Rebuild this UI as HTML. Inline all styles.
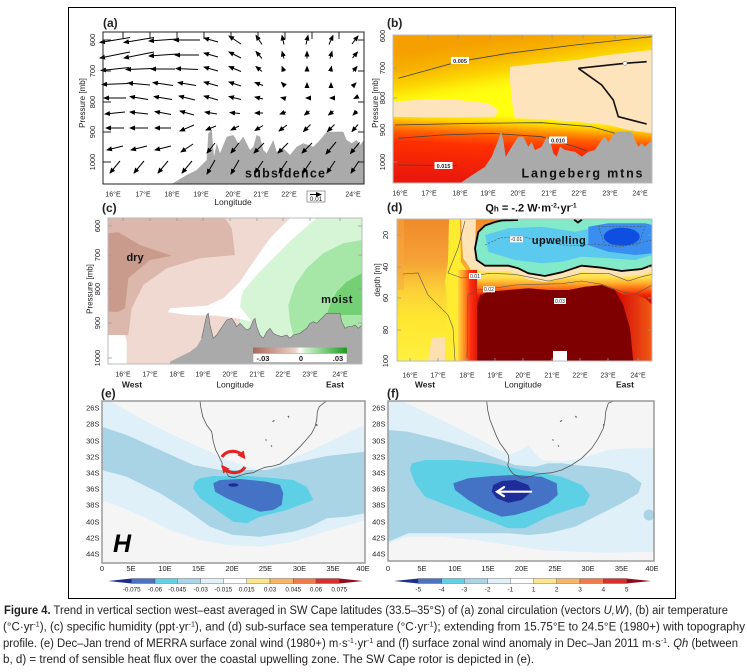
<!DOCTYPE html>
<html><head><meta charset="utf-8"><style>
html,body{margin:0;padding:0;background:#fff;}
svg{display:block;}
text{font-family:"Liberation Sans",sans-serif;fill:#222;}
</style></head><body>
<svg width="747" height="672" viewBox="0 0 747 672" xmlns="http://www.w3.org/2000/svg">
<defs>
<marker id="ah" markerUnits="userSpaceOnUse" markerWidth="6" markerHeight="5" refX="5" refY="2.5" orient="auto"><path d="M0,0 L6,2.5 L0,5 z" fill="#000"/></marker>
<marker id="rh" markerUnits="userSpaceOnUse" markerWidth="8" markerHeight="8" refX="4" refY="4" orient="auto"><path d="M0,0 L8,4 L0,8 z" fill="#e52421"/></marker>
<linearGradient id="bBase" gradientUnits="userSpaceOnUse" x1="0" y1="35" x2="0" y2="183" gradientTransform="rotate(3 522 110)">
<stop offset="0" stop-color="#ffff10"/><stop offset="0.55" stop-color="#ffff10"/><stop offset="0.6" stop-color="#ffd800"/><stop offset="0.64" stop-color="#ffa000"/><stop offset="0.69" stop-color="#ff6000"/><stop offset="0.76" stop-color="#ff3000"/><stop offset="1" stop-color="#ea180c"/></linearGradient>
<linearGradient id="bTop" gradientUnits="userSpaceOnUse" x1="0" y1="35" x2="0" y2="92" gradientTransform="rotate(-9 522 60)">
<stop offset="0" stop-color="#f5a000" stop-opacity="1"/><stop offset="0.3" stop-color="#f7b200" stop-opacity="1"/><stop offset="0.6" stop-color="#fbd400" stop-opacity="0.9"/><stop offset="1" stop-color="#ffff10" stop-opacity="0"/></linearGradient>
<linearGradient id="cbC" x1="0" y1="0" x2="1" y2="0"><stop offset="0" stop-color="#a86a5a"/><stop offset="0.45" stop-color="#ecd2c8"/><stop offset="0.5" stop-color="#fff"/><stop offset="0.55" stop-color="#d4f4d4"/><stop offset="1" stop-color="#1e9a1e"/></linearGradient>
<linearGradient id="dLeft" gradientUnits="userSpaceOnUse" x1="0" y1="219" x2="0" y2="361"><stop offset="0" stop-color="#f08a2a"/><stop offset="0.3" stop-color="#f5a236"/><stop offset="0.5" stop-color="#fbd038"/><stop offset="0.7" stop-color="#ffe630"/><stop offset="1" stop-color="#fff040"/></linearGradient>
<linearGradient id="dMid" gradientUnits="userSpaceOnUse" x1="0" y1="266" x2="0" y2="361"><stop offset="0" stop-color="#fff060"/><stop offset="0.12" stop-color="#ffe050"/><stop offset="0.18" stop-color="#ffb02c"/><stop offset="0.24" stop-color="#ff6a16"/><stop offset="0.3" stop-color="#f02a06"/><stop offset="0.36" stop-color="#c81004"/><stop offset="1" stop-color="#c01004"/></linearGradient>
<linearGradient id="dBand" gradientUnits="userSpaceOnUse" x1="458" y1="0" x2="477" y2="0"><stop offset="0" stop-color="#ffd840"/><stop offset="0.35" stop-color="#ff8a20"/><stop offset="0.65" stop-color="#ff3010"/><stop offset="1" stop-color="#e01a06"/></linearGradient>
<linearGradient id="dRed" gradientUnits="userSpaceOnUse" x1="620" y1="0" x2="652" y2="0"><stop offset="0" stop-color="#d81008"/><stop offset="1" stop-color="#f05a14"/></linearGradient>
</defs>

<rect x="0" y="0" width="747" height="672" fill="#fff"/>
<rect x="68.5" y="7.5" width="607" height="591" fill="none" stroke="#000" stroke-width="1"/>

<!-- ===== Panel (a) ===== -->
<text x="103" y="27" font-size="12" font-weight="bold">(a)</text>
<rect x="103" y="32" width="261" height="152" fill="#fff"/>
<polygon fill="#aaa" points="171.7,184 186.7,175 196.7,170 206.7,160 208.3,133.3 211.7,130 214,156.7 216.7,143.3 220,153.3 226.7,136.7 233.3,135 238.3,143.3 243.3,136.7 250,150 253.3,146.7 256.7,135 260,136.7 263.3,150 266.7,153.3 273.3,140 276.7,151.7 283.3,148.3 290,155 296.7,146.7 303.3,143.3 313.3,146.7 320,140 326.7,131.7 343.3,131.7 346.7,140 351.7,143.3 356.7,140 360,145 364,140 364,184"/>
<text x="285" y="177.5" font-size="12.5" font-weight="bold" text-anchor="middle" textLength="80" lengthAdjust="spacing" style="fill:#111">subsidence</text>
<g stroke="#000" stroke-width="1" fill="none" marker-end="url(#ah)">
<path d="M130 37.5l-30 5"/><path d="M130 52l-30 6"/><path d="M129 67.5l-28 3"/><path d="M128 83.5l-26 1"/><path d="M126 98l-22 0"/><path d="M125 112l-20 2"/><path d="M124 128l-18 0"/><path d="M123 146l-16 4"/><path d="M120 161l-10 12"/>
<path d="M154 37.5l-30 5"/><path d="M154 52l-30 6"/><path d="M152 68.5l-26 1"/><path d="M150 85l-22 -2"/><path d="M148 99.5l-18 -3"/><path d="M148 114l-18 -2"/><path d="M148 128l-18 0"/><path d="M147 146l-16 4"/><path d="M144 161l-10 12"/>
<path d="M177 39l-28 2"/><path d="M177 54l-28 2"/><path d="M175 69l-24 0"/><path d="M173 85.5l-20 -3"/><path d="M172 99.5l-18 -3"/><path d="M171 114.5l-16 -3"/><path d="M171 128l-16 0"/><path d="M171 146l-16 4"/><path d="M168 161l-10 12"/>
<path d="M200 40l-26 0"/><path d="M199 55l-24 0"/><path d="M198 69.5l-22 -1"/><path d="M196 85.5l-18 -3"/><path d="M195 100l-16 -4"/><path d="M194 115l-14 -4"/><path d="M194 125l-14 6"/><path d="M193 144l-12 8"/><path d="M192 161l-10 12"/>
<path d="M218 42l-14 -4"/><path d="M218 57l-14 -4"/><path d="M218 71l-14 -4"/><path d="M218 86l-14 -4"/><path d="M218 100l-14 -4"/><path d="M217 114l-12 -2"/><path d="M216 126l-10 4"/><path d="M215 143l-8 10"/><path d="M215 160l-8 14"/>
<path d="M241 44l-12 -8"/><path d="M241 58l-12 -6"/><path d="M241 71.5l-12 -5"/><path d="M241 86l-12 -4"/><path d="M241 99.5l-12 -3"/><path d="M240 113.5l-10 -1"/><path d="M239 126l-8 4"/><path d="M239 143l-8 10"/><path d="M239 160l-8 14"/>
<path d="M262 44.5l-6 -9"/><path d="M262 58.5l-6 -7"/><path d="M262 71.5l-6 -5"/><path d="M263 85.5l-8 -3"/><path d="M263 99l-8 -2"/><path d="M263 113l-8 0"/><path d="M263 125.5l-8 5"/><path d="M264 143l-10 10"/><path d="M263 161l-8 12"/>
<path d="M284 44.5l-2 -9"/><path d="M284 58.5l-2 -7"/><path d="M284 71.5l-2 -5"/><path d="M284.5 85.5l-3 -3"/><path d="M285 98.5l-4 -1"/><path d="M286 112l-6 2"/><path d="M287 125l-8 6"/><path d="M288 143l-10 10"/><path d="M287 161l-8 12"/>
<path d="M306 44.5l2 -9"/><path d="M307 58.5l0 -7"/><path d="M307 71.5l0 -5"/><path d="M307 85l0 -2"/><path d="M308 98l-2 0"/><path d="M309.5 111l-5 4"/><path d="M310.5 124.5l-7 7"/><path d="M312 143l-10 10"/><path d="M311 161l-8 12"/>
<path d="M329 44.5l4 -9"/><path d="M330 58.5l2 -7"/><path d="M330.5 71.5l1 -5"/><path d="M331 85l0 -2"/><path d="M332 98l-2 0"/><path d="M333.5 111l-5 4"/><path d="M334.5 124.5l-7 7"/><path d="M336 142l-10 12"/><path d="M335 161l-8 12"/>
<path d="M352 44l6 -8"/><path d="M352.5 58l5 -6"/><path d="M353 71.5l4 -5"/><path d="M354 85l2 -2"/><path d="M356 97.5l-2 1"/><path d="M357 111l-4 4"/><path d="M358 124.5l-6 7"/><path d="M359.5 142.5l-9 11"/><path d="M359 161l-8 12"/>
</g>
<rect x="103" y="32" width="261" height="152" fill="none" stroke="#222" stroke-width="1"/>
<g stroke="#222" stroke-width="1">
<path d="M123 32v7M150 32v7M177 32v7M204 32v7M231 32v7M258 32v7M285 32v7M312 32v7M339 32v7"/>
<path d="M103 40h8M103 71h8M103 102h8M103 132h8M103 162h8M364 40h-6M364 71h-6M364 102h-6M364 132h-6M364 162h-6"/>
</g>
<g font-size="7.5" text-anchor="middle">
<text transform="translate(95,40) rotate(-90)">600</text>
<text transform="translate(95,71) rotate(-90)">700</text>
<text transform="translate(95,102) rotate(-90)">800</text>
<text transform="translate(95,132) rotate(-90)">900</text>
<text transform="translate(95,162) rotate(-90)">1000</text>
<text transform="translate(85,103) rotate(-90)" font-size="8">Pressure [mb]</text>
</g>
<g font-size="7" text-anchor="middle">
<text x="113" y="196.5">16°E</text><text x="143" y="196.5">17°E</text><text x="172" y="196.5">18°E</text><text x="201" y="196.5">19°E</text><text x="233" y="196.5">20°E</text><text x="261" y="196.5">21°E</text><text x="289" y="196.5">22°E</text><text x="318" y="196.5">23°E</text><text x="353" y="196.5">24°E</text>
</g>
<text x="233" y="205" font-size="8.5" text-anchor="middle">Longitude</text>
<rect x="307" y="191" width="18" height="11" fill="#fff" stroke="#888" stroke-width="0.8"/>
<path d="M310 194.5h11" stroke="#000" stroke-width="1" marker-end="url(#ah)"/>
<text x="316" y="201" font-size="6.5" text-anchor="middle">0.01</text>

<!-- ===== Panel (b) ===== -->
<text x="387" y="27" font-size="12" font-weight="bold">(b)</text>
<rect x="393" y="35" width="259" height="148" fill="url(#bBase)"/>
<rect x="393" y="35" width="259" height="95" fill="url(#bTop)"/>
<polygon fill="#fde4bc" points="510,66.7 541.7,63.3 575,60 608.3,55 651.7,50 651.7,133.3 628.3,130 608.3,125 575,121.7 541.7,119.3 515,118.3 511.7,100 510,80"/>
<polygon fill="#fde4bc" points="393.3,101.7 425,99.3 458.3,100 488.3,103.3 498.3,110 495,116.7 458.3,117.3 425,117.3 393.3,116.7"/>
<g fill="none" stroke="#444" stroke-width="0.8">
<polyline points="398.3,78.3 458.3,61.7 508.3,53.3 575,45 651.7,36.7"/>
<polyline points="395,125 475,123.3 541.7,122.7 591.7,126.7 615,133.3"/>
<polyline points="398.3,138.3 441.7,135 491.7,133.3 541.7,136.7 575,146.7 586.7,150.7"/>
<polyline points="398.3,165 456.7,165.7"/>
</g>
<g fill="none" stroke="#111" stroke-width="1.6">
<polyline points="578.3,68.3 625,63.3 646.7,61.7"/>
<polyline points="578.3,68.3 601.7,85 613.3,100 618.3,116.7 646.7,124"/>
</g>
<circle cx="625" cy="63.3" r="2" fill="#fff" stroke="#888" stroke-width="0.6"/>
<polygon fill="#aaa" points="460,183.3 475,173.3 485,166.7 491.7,156.7 498.3,140 501,131.7 503.3,140 505.7,156.7 511.7,146.7 518.3,136.7 523.3,136.7 528.3,146.7 531.7,141.7 535,150 541.7,146.7 546.7,136.7 550,140 553.3,153.3 556.7,156.7 560,146.7 565,150 575,151.7 581.7,156.7 588.3,151.7 595,150 601.7,140 605,136.7 608.3,141.7 615,133.3 618.3,131.7 631.7,131.7 635,140 638.3,146.7 641.7,143.3 645,146.7 650,141.7 651.7,141.7 651.7,183.3"/>
<g font-size="5.5" font-weight="bold" text-anchor="middle">
<rect x="451" y="57" width="18" height="7" fill="#fff"/><text x="460" y="62.8">0.005</text>
<rect x="549" y="136.5" width="18" height="7" fill="#fff"/><text x="558" y="142.3">0.010</text>
<rect x="434.5" y="162" width="18" height="7" fill="#fff"/><text x="443.5" y="167.8">0.015</text>
</g>
<text x="582" y="177.5" font-size="12.5" font-weight="bold" text-anchor="middle" textLength="121" lengthAdjust="spacing" style="fill:#111">Langeberg mtns</text>
<rect x="393" y="35" width="259" height="148" fill="none" stroke="#bbb" stroke-width="1"/>
<g stroke="#999" stroke-width="0.8">
<path d="M428 35v4M458 35v4M490 35v4M522 35v4M552 35v4M583 35v4M615 35v4M645 35v4"/>
<path d="M393 68h4M393 98h4M393 130h4M393 162h4"/>
</g>
<g font-size="7.5" text-anchor="middle">
<text transform="translate(385,36) rotate(-90)">600</text>
<text transform="translate(385,68) rotate(-90)">700</text>
<text transform="translate(385,98) rotate(-90)">800</text>
<text transform="translate(385,130) rotate(-90)">900</text>
<text transform="translate(385,162) rotate(-90)">1000</text>
<text transform="translate(378,103) rotate(-90)" font-size="8">Pressure [mb]</text>
</g>
<g font-size="7" text-anchor="middle">
<text x="400" y="195.5">16°E</text><text x="429" y="195.5">17°E</text><text x="460" y="195.5">18°E</text><text x="488" y="195.5">19°E</text><text x="518" y="195.5">20°E</text><text x="549" y="195.5">21°E</text><text x="579" y="195.5">22°E</text><text x="610" y="195.5">23°E</text><text x="640" y="195.5">24°E</text>
</g>

<!-- ===== Panel (c) ===== -->
<text x="102" y="212" font-size="12" font-weight="bold">(c)</text>
<rect x="108" y="218" width="254" height="146" fill="#efd9d0"/>
<polygon fill="#fff" points="108.3,335 125,335 126.7,341.7 126.7,364 108.3,364"/>
<polygon fill="#d6f5d6" points="316.7,218 362,218 362,364 240,364 240,306.7 242.7,291.7 256.7,275 273.3,258.3 293.3,238.3"/>
<polygon fill="#a6e6a6" points="362,240 343.3,243.3 323.3,253.3 306.7,268.3 295,285 288.3,305 290,321.7 293.3,335 362,335"/>
<polygon fill="#74d074" points="362,273.3 346.7,281.7 336.7,291.7 330,305 326.7,315 362,315"/>
<polygon fill="#fff" points="290,218 316.7,218 293.3,238.3 273.3,258.3 256.7,275 242.7,291.7 240,306.7 251.7,321.7 236.7,318.3 216.7,315.7 186.7,315 168.3,312.3 170,308.3 206.7,305.7 223.3,298.3 240,281.7 253.3,261.7 270,238.3"/>
<polygon fill="#dbb8ab" points="108.3,218 225,218 231.7,228.3 235,255 200,258.3 166.7,268.3 143.3,285 131.7,308.3 128.3,335 108.3,335"/>
<polygon fill="#c99b8c" points="108.3,233.3 118.3,232.3 140,245 171.7,255.7 150,260 128.3,278.3 125,308.3 118.3,311.7 108.3,311.7"/>
<polygon fill="#aaa" points="170,364 170,361.7 180,356.7 190,351.7 196.7,346.7 201.7,338.3 206.7,315 208.3,313.3 210,325 213.3,338.3 216.7,335 223.3,325 226.7,320 231.7,318.3 235,323.3 236.7,326.7 240,323.3 243.3,326.7 246.7,330 250,328.3 253.3,320 255,318.3 256.7,326.7 260,335 263.3,338.3 266.7,331.7 270,328.3 273.3,333.3 276.7,335 281.7,336.7 286.7,335 290,338.3 293.3,335 300,333.3 306.7,328.3 310,323.3 313.3,321.7 316.7,323.3 320,320 326.7,313.3 340,313.3 341.7,321.7 345,328.3 348.3,326.7 351.7,326.7 355,325 358.3,328.3 362,325 362,364"/>
<polyline fill="none" stroke="#666" stroke-width="0.6" points="201.7,338.3 206.7,315 208.3,313.3 210,325 213.3,338.3 216.7,335 223.3,325 226.7,320 231.7,318.3 235,323.3 236.7,326.7 240,323.3 243.3,326.7 246.7,330 250,328.3 253.3,320 255,318.3 256.7,326.7 260,335 263.3,338.3 266.7,331.7 270,328.3 273.3,333.3 276.7,335 281.7,336.7 286.7,335 290,338.3 293.3,335 300,333.3 306.7,328.3 310,323.3 313.3,321.7 316.7,323.3 320,320 326.7,313.3 340,313.3 341.7,321.7 345,328.3 348.3,326.7 351.7,326.7 355,325 358.3,328.3 362,325"/>
<text x="135" y="261" font-size="11" font-weight="bold" text-anchor="middle" style="fill:#111">dry</text>
<text x="337" y="303" font-size="11" font-weight="bold" text-anchor="middle" letter-spacing="0.5" style="fill:#111">moist</text>
<rect x="253" y="347.5" width="94" height="6" fill="url(#cbC)"/>
<rect x="253" y="353.5" width="94" height="9" fill="#fff" stroke="#999" stroke-width="0.5"/>
<g font-size="7.5" font-weight="bold" text-anchor="middle" style="fill:#111">
<text x="263" y="361">-.03</text><text x="301" y="361">0</text><text x="338" y="361">.03</text>
</g>
<rect x="108" y="218" width="254" height="146" fill="none" stroke="#bbb" stroke-width="1"/>
<g stroke="#999" stroke-width="0.8">
<path d="M108 226h4M108 255h4M108 289h4M108 323h4M108 358h4M362 226h-4M362 255h-4M362 289h-4M362 323h-4"/>
<path d="M123 218v3M150 218v3M177 218v3M203 218v3M230 218v3M257 218v3M283 218v3M310 218v3M340 218v3"/>
</g>
<g font-size="7.5" text-anchor="middle">
<text transform="translate(100,226) rotate(-90)">600</text>
<text transform="translate(100,255) rotate(-90)">700</text>
<text transform="translate(100,289) rotate(-90)">800</text>
<text transform="translate(100,323) rotate(-90)">900</text>
<text transform="translate(100,358) rotate(-90)">1000</text>
<text transform="translate(92.5,289) rotate(-90)" font-size="8">Pressure [mb]</text>
</g>
<g font-size="7" text-anchor="middle">
<text x="123" y="376.5">16°E</text><text x="150" y="376.5">17°E</text><text x="177" y="376.5">18°E</text><text x="203" y="376.5">19°E</text><text x="230" y="376.5">20°E</text><text x="257" y="376.5">21°E</text><text x="283" y="376.5">22°E</text><text x="310" y="376.5">23°E</text><text x="340" y="376.5">24°E</text>
</g>
<g font-size="8.5" font-weight="bold" text-anchor="middle" style="fill:#333">
<text x="132" y="387.5">West</text><text x="235" y="387.5" font-weight="normal">Longitude</text><text x="335" y="387.5">East</text>
</g>

<!-- ===== Panel (d) ===== -->
<text x="387" y="211.5" font-size="12" font-weight="bold">(d)</text>
<text x="531" y="211.5" font-size="11" font-weight="bold" text-anchor="middle" style="fill:#111">Q<tspan font-size="8">h</tspan> = -.2 W·m<tspan font-size="6.5" dy="-4">-2</tspan><tspan dy="4">·yr</tspan><tspan font-size="6.5" dy="-4">-1</tspan></text>
<rect x="397" y="219" width="255" height="142" fill="url(#dLeft)"/>
<polygon fill="#f8a840" points="397,219 404,219 404,290 397,290" opacity="0.5"/>
<polygon fill="#ffec30" points="449,219 460,219 461,262 466,270 462,290 460,361 445,361 447,300 445,282 448,262"/>
<polygon fill="#fde0b0" points="428,361 431.7,338.3 445,336.7 445,361"/>
<rect x="470" y="266" width="182.3" height="95" fill="url(#dMid)"/>
<rect x="458" y="270" width="19" height="91" fill="url(#dBand)"/>
<polygon fill="#7e0000" points="477,361 477,308.3 480,295 488.3,291.7 508.3,290 528.3,288.3 548.3,290 568.3,290 585,286.7 601.7,285 615,290 623.3,305 630,328.3 633.3,361"/>
<polygon fill="url(#dRed)" points="633.3,361 652.3,361 652.3,305 645,298.3 635,295 623.3,295 615,290 623.3,305 630,328.3"/>
<polygon fill="#fde3b5" points="461,219 476,219 475,248.3 476.7,260 485,265.7 508.3,265.7 518.3,268.3 528.3,273.3 545,276 561.7,272.3 581.7,265.7 601.7,267.7 621.7,271 641.7,269 652.3,265 652.3,271 641.7,275 621.7,277 601.7,273.5 581.7,272 561.7,278.5 545,282 528.3,279.5 518.3,274.5 508.3,271.5 485,271.5 470,268 463,258 462,240"/>
<polygon fill="#82eac8" points="476.7,260 475,248.3 478.3,231.7 485,225 495,221.7 501.7,220 518.3,219 652.3,219 652.3,265 641.7,269 621.7,271 601.7,267.7 581.7,265.7 561.7,272.3 545,276 528.3,273.3 518.3,268.3 508.3,265.7 485,265.7"/>
<polygon fill="#5ccaee" points="485,235 508.3,228.3 541.7,226.7 575,231.7 608.3,225 641.7,225 652.3,228.3 652.3,255 635,260 608.3,258.3 581.7,256.7 561.7,261.7 541.7,263.3 515,260 488.3,251.7"/>
<polygon fill="#3a8ef0" points="588.3,226.7 608.3,223.3 645,223.3 652.3,225 652.3,253.3 635,255 608.3,251.7 588.3,245"/>
<ellipse cx="621.7" cy="236.7" rx="18" ry="9" fill="#0e4ee0"/>
<g fill="none" stroke="#555" stroke-width="0.6" stroke-dasharray="2,1.5">
<polyline points="485,245 500,238 520,236 545,242 570,246 595,244 620,247 652,240"/>
<polygon points="598.3,226.7 645,226.7 638.3,245 605,245"/>
</g>
<g fill="none" stroke="#555" stroke-width="0.6">
<polyline points="403,274 418,273 428,295 448,315 453,328 455,361"/>
<polyline points="465,221 458,248 448,273 462,278 475,276 488.3,273.3 515,274.3 535,278.3 548.3,281 561.7,278.3 581.7,273.3 608.3,273.3 628.3,281 641.7,276.7 652.3,274.3"/>
<polyline points="467,361 468,295 476,290 488.3,289 515,285 535,284.3 561.7,283.7 581.7,281 601.7,284.3 621.7,291.7 635,294.3 652.3,285"/>
</g>
<polyline fill="none" stroke="#000" stroke-width="1.8" points="518,220 501.7,220.5 495,222 485,225.5 478.3,232 475,248.3 476.7,260 485,265.7 508.3,265.7 518.3,268.3 528.3,273.3 545,276 561.7,272.3 581.7,265.7 601.7,267.7 621.7,271 641.7,269 652.3,265"/>
<polyline fill="none" stroke="#000" stroke-width="1.8" points="574,219.5 578,222.5 582,219.5"/>
<g font-size="5" text-anchor="middle">
<rect x="510" y="236.3" width="13" height="6" fill="#fff"/><text x="516.5" y="241.2">-0.01</text>
<rect x="469" y="273" width="12" height="6" fill="#fff"/><text x="475" y="277.9">0.01</text>
<rect x="483" y="286.3" width="12" height="6" fill="#fff"/><text x="489" y="291.2">0.02</text>
<rect x="554" y="298" width="12" height="6" fill="#fff"/><text x="560" y="302.9">0.03</text>
</g>
<text x="559" y="244" font-size="11" font-weight="bold" text-anchor="middle" letter-spacing="0.4" style="fill:#111">upwelling</text>
<rect x="553" y="351" width="14" height="10" fill="#fff"/>
<rect x="397" y="219" width="255" height="142" fill="none" stroke="#bbb" stroke-width="1"/>
<g stroke="#999" stroke-width="0.8">
<path d="M397 235h4M397 267h4M397 298h4M397 330h4M652 235h-4M652 267h-4M652 298h-4M652 330h-4"/>
<path d="M410 361v-3M438 361v-3M467 361v-3M495 361v-3M523 361v-3M552 361v-3M580 361v-3M608 361v-3M638 361v-3"/>
</g>
<g font-size="7.5" text-anchor="middle">
<text transform="translate(388,235) rotate(-90)">20</text>
<text transform="translate(388,267) rotate(-90)">40</text>
<text transform="translate(388,298) rotate(-90)">60</text>
<text transform="translate(388,330) rotate(-90)">80</text>
<text transform="translate(388,361) rotate(-90)">100</text>
<text transform="translate(380,280) rotate(-90)" font-size="8">depth [m]</text>
</g>
<g font-size="7" text-anchor="middle">
<text x="410" y="377.5">16°E</text><text x="438" y="377.5">17°E</text><text x="467" y="377.5">18°E</text><text x="495" y="377.5">19°E</text><text x="523" y="377.5">20°E</text><text x="552" y="377.5">21°E</text><text x="580" y="377.5">22°E</text><text x="608" y="377.5">23°E</text><text x="638" y="377.5">24°E</text>
</g>
<g font-size="8.5" font-weight="bold" text-anchor="middle" style="fill:#333">
<text x="425" y="387.5">West</text><text x="523" y="387.5" font-weight="normal">Longitude</text><text x="625" y="387.5">East</text>
</g>

<!-- ===== Panel (e) ===== -->
<text x="101" y="397.5" font-size="12" font-weight="bold">(e)</text>
<rect x="102" y="401" width="263" height="162" fill="#f5f5f5"/>
<polygon fill="#dff0f8" points="101.7,401 110,401 143.3,420 176.7,436.7 210,451.7 226.7,460 246.7,466.7 260,470 276.7,465 300,455 326.7,443.3 350,431.7 365,425 365,520 343.3,526.7 320,533.3 293.3,541.7 260,546.7 226.7,545 200,540 170,530 143.3,516.7 120,506.7 101.7,500"/>
<polygon fill="#a8d4e6" points="101.7,426.7 126.7,435 160,450 193.3,465 220,470 246.7,470 266.7,470 293.3,463.3 326.7,456 365,451.7 365,513.3 346.7,516.7 326.7,518.3 310,526.7 293.3,531.7 260,536.7 233.3,535 210,526.7 186.7,510 160,493.3 126.7,476.7 101.7,470"/>
<polygon fill="#5ed0e6" points="195,481.7 200,478.3 213.3,476 246.7,476 276.7,478.3 293.3,480 306.7,486.7 313.3,500 300,505 286.7,510 260,516.7 246.7,523.3 233.3,521.7 216.7,510 200,498.3 193.3,488.3"/>
<polygon fill="#4472c4" points="213.3,483.3 220,480 240,479 266.7,481.7 280,485 283.3,493.3 281.7,505 273.3,510 260,511.7 246.7,506.7 226.7,498.3 215,491.7"/>
<ellipse cx="233.3" cy="485" rx="5" ry="1.8" fill="#1e2d96"/>
<polyline fill="none" stroke="#555" stroke-width="0.8" points="200,401 200.7,406.7 202.7,416.7 206.7,425 211.7,431.7 213.3,441.7 215.7,450 218.3,455 220.7,460 222.3,463.3 221.7,466.7 223.3,470 226.7,472.7 228.3,476 231.7,477.3 235,477.3 238.3,476 241.7,475 245,474 248.3,473.3 253.3,472.7 258.3,470 265,467.3 273.3,466 280,464 286.7,459.3 293.3,453.3 300,446.7 306.7,439.3 311.7,433.3 315,426.7 316.7,420 317.3,411.7 319.3,406.7 323.3,403.3 326.7,401"/>
<g stroke="#555" stroke-width="1.2"><path d="M272.5 421.5l2 -1M288 416l1 1.5M265.5 439.5l1 1M271 445.5l1 1M316.5 424l0.5 2"/></g>
<g fill="none" stroke="#e52421" stroke-width="3.2">
<path d="M222 457 A12 10 0 0 1 243 456" marker-end="url(#rh)"/>
<path d="M245 467 A12 10 0 0 1 224 468" marker-end="url(#rh)"/>
</g>
<text x="113" y="552" font-size="25" font-weight="bold" font-style="italic" style="fill:#000">H</text>
<rect x="102" y="401" width="263" height="162" fill="none" stroke="#9a9a9a" stroke-width="1.5"/>
<g font-size="7.5" text-anchor="end" style="fill:#333">
<text x="99.5" y="410.5">26S</text><text x="99.5" y="426.5">28S</text><text x="99.5" y="443.5">30S</text><text x="99.5" y="459.5">32S</text><text x="99.5" y="475.5">34S</text><text x="99.5" y="491.5">36S</text><text x="99.5" y="507.5">38S</text><text x="99.5" y="524.5">40S</text><text x="99.5" y="540.5">42S</text><text x="99.5" y="556.5">44S</text>
</g>
<g font-size="7.5" text-anchor="middle" style="fill:#333">
<text x="102" y="571">0</text><text x="131" y="571">5E</text><text x="165" y="571">10E</text><text x="198.5" y="571">15E</text><text x="232" y="571">20E</text><text x="265.5" y="571">25E</text><text x="299.5" y="571">30E</text><text x="333" y="571">35E</text><text x="363" y="571">40E</text>
</g>
<polygon points="108,581 131.7,578.5 131.7,583.5" fill="#1f2e8c"/>
<g stroke="#555" stroke-width="0.4">
<rect x="131.7" y="578.5" width="23.3" height="5" fill="#4a74c0"/>
<rect x="155" y="578.5" width="22.3" height="5" fill="#5ed2e6"/>
<rect x="177.3" y="578.5" width="23.4" height="5" fill="#a8d6e6"/>
<rect x="200.7" y="578.5" width="22.6" height="5" fill="#e2f1f8"/>
<rect x="223.3" y="578.5" width="23.4" height="5" fill="#ffffff"/>
<rect x="246.7" y="578.5" width="23.3" height="5" fill="#fde68a"/>
<rect x="270" y="578.5" width="23.3" height="5" fill="#f8b664"/>
<rect x="293.3" y="578.5" width="22.7" height="5" fill="#f07a48"/>
<rect x="316" y="578.5" width="23.3" height="5" fill="#d8302c"/>
</g>
<polygon points="339.3,578.5 363,581 339.3,583.5" fill="#8e0c1c"/>
<g font-size="6.3" text-anchor="middle" style="fill:#222">
<text x="131.7" y="591.5">-0.075</text><text x="155" y="591.5">-0.06</text><text x="177.3" y="591.5">-0.045</text><text x="200.7" y="591.5">-0.03</text><text x="223.3" y="591.5">-0.015</text><text x="246.7" y="591.5">0.015</text><text x="270" y="591.5">0.03</text><text x="293.3" y="591.5">0.045</text><text x="316" y="591.5">0.06</text><text x="339.3" y="591.5">0.075</text>
</g>

<!-- ===== Panel (f) ===== -->
<text x="387" y="397.5" font-size="12" font-weight="bold">(f)</text>
<rect x="388" y="401" width="266" height="160" fill="#f5f5f5"/>
<polygon fill="#dff0f8" points="388.3,401 401.7,401 441.7,420 475,436.7 508.3,455 521.7,450 528.3,445 535,453.3 541.7,460 561.7,461.7 581.7,458.3 608.3,450 628.3,448.3 654,448.3 654,551.7 608.3,552.7 575,551.7 541.7,550 508.3,545 475,540 441.7,536.7 408.3,536.7 388.3,543.3"/>
<polygon fill="#a8d4e6" points="388.3,430 408.3,431.7 441.7,440 475,450 501.7,460 515,465 535,466.7 548.3,463.3 561.7,463.3 575,465 608.3,468.3 628.3,473.3 641.7,483.3 638.3,493.3 621.7,503.3 608.3,510 588.3,520 575,526.7 548.3,533.3 528.3,535 508.3,533.3 475,533.3 441.7,533.3 408.3,533.3 388.3,541.7"/>
<circle cx="649" cy="515" r="5.5" fill="#a8d4e6"/>
<polygon fill="#5ed0e6" points="411.7,463.3 425,460 458.3,460 491.7,463.3 508.3,466.7 521.7,470 541.7,473.3 561.7,476.7 581.7,485 590,495 585,505 568.3,510 548.3,516.7 525,528.3 508.3,528.3 491.7,521.7 468.3,513.3 441.7,503.3 425,496.7 415,483.3 410,470"/>
<polygon fill="#4472c4" points="453.3,483.3 468.3,478.3 491.7,476 515,475 541.7,476.7 556.7,483.3 557.7,495 548.3,503.3 531.7,510 515,515 501.7,516.7 485,510 468.3,500 455,490"/>
<polygon fill="#1e2d9a" points="493.3,485 501.7,481 515,480 528.3,485 531.7,491.7 521.7,500 508.3,502.7 496.7,498.3 491.7,491.7"/>
<polyline fill="none" stroke="#555" stroke-width="0.8" points="486.7,401 487.7,410 490,420 493.3,428.3 496.7,436.7 500,443.3 505,450 508.3,455 509,460 507.7,465 510,470 513.3,474 517.7,476 521.7,478.3 526.7,477.3 531.7,476 538.3,474 545,473.3 551.7,472.7 561.7,470 571.7,465 581.7,458.3 591.7,448.3 598.3,438.3 603.3,428.3 605,420 605.7,411.7 608.3,403.3 613.3,401"/>
<g stroke="#555" stroke-width="1.2"><path d="M560 421.5l2 -1M575.5 416l1 1.5M552.5 439.5l1 1M558 445.5l1 1M603.5 424l0.5 2"/></g>
<g fill="none" stroke="#fff" stroke-width="2.2" stroke-linecap="round">
<path d="M531 491.7H497.5"/><path d="M504 487.2L497 491.7L504 496.2"/>
</g>
<rect x="388" y="401" width="266" height="160" fill="none" stroke="#9a9a9a" stroke-width="1.5"/>
<g font-size="7.5" text-anchor="end" style="fill:#333">
<text x="385.5" y="410.5">26S</text><text x="385.5" y="426.5">28S</text><text x="385.5" y="443.5">30S</text><text x="385.5" y="459.5">32S</text><text x="385.5" y="475.5">34S</text><text x="385.5" y="491.5">36S</text><text x="385.5" y="507.5">38S</text><text x="385.5" y="524.5">40S</text><text x="385.5" y="540.5">42S</text><text x="385.5" y="556.5">44S</text>
</g>
<g font-size="7.5" text-anchor="middle" style="fill:#333">
<text x="388" y="571">0</text><text x="422" y="571">5E</text><text x="455" y="571">10E</text><text x="488" y="571">15E</text><text x="521.5" y="571">20E</text><text x="555" y="571">25E</text><text x="588" y="571">30E</text><text x="621.5" y="571">35E</text><text x="652" y="571">40E</text>
</g>
<polygon points="394,581 418.3,578.5 418.3,583.5" fill="#1f2e8c"/>
<g stroke="#555" stroke-width="0.4">
<rect x="418.3" y="578.5" width="23.4" height="5" fill="#4a74c0"/>
<rect x="441.7" y="578.5" width="22.6" height="5" fill="#5ed2e6"/>
<rect x="464.3" y="578.5" width="23.4" height="5" fill="#a8d6e6"/>
<rect x="487.7" y="578.5" width="22.6" height="5" fill="#e2f1f8"/>
<rect x="510.3" y="578.5" width="23.4" height="5" fill="#ffffff"/>
<rect x="533.7" y="578.5" width="23" height="5" fill="#fde68a"/>
<rect x="556.7" y="578.5" width="23.3" height="5" fill="#f8b664"/>
<rect x="580" y="578.5" width="23.3" height="5" fill="#f07a48"/>
<rect x="603.3" y="578.5" width="23.4" height="5" fill="#d8302c"/>
</g>
<polygon points="626.7,578.5 651,581 626.7,583.5" fill="#8e0c1c"/>
<g font-size="6.5" text-anchor="middle" style="fill:#222">
<text x="418.3" y="591.5">-5</text><text x="441.7" y="591.5">-4</text><text x="464.3" y="591.5">-3</text><text x="487.7" y="591.5">-2</text><text x="510.3" y="591.5">-1</text><text x="533.7" y="591.5">1</text><text x="556.7" y="591.5">2</text><text x="580" y="591.5">3</text><text x="603.3" y="591.5">4</text><text x="626.7" y="591.5">5</text>
</g>

<!-- ===== Caption ===== -->
<g font-size="11.5" style="fill:#231f20">
<text x="4" y="614" textLength="724" lengthAdjust="spacingAndGlyphs" style="fill:#231f20"><tspan font-weight="bold">Figure 4.</tspan> Trend in vertical section west–east averaged in SW Cape latitudes (33.5–35°S) of (a) zonal circulation (vectors <tspan font-style="italic">U,W</tspan>), (b) air temperature</text>
<text x="3" y="630.5" textLength="742" lengthAdjust="spacingAndGlyphs" style="fill:#231f20">(°C·yr<tspan font-size="7" dy="-4">-1</tspan><tspan dy="4">), (c) specific humidity (ppt·yr</tspan><tspan font-size="7" dy="-4">-1</tspan><tspan dy="4">), and (d) sub-surface sea temperature (°C·yr</tspan><tspan font-size="7" dy="-4">-1</tspan><tspan dy="4">); extending from 15.75°E to 24.5°E (1980+) with topography</tspan></text>
<text x="3" y="647" textLength="735" lengthAdjust="spacingAndGlyphs" style="fill:#231f20">profile. (e) Dec–Jan trend of MERRA surface zonal wind (1980+) m·s<tspan font-size="7" dy="-4">-1</tspan><tspan dy="4">·yr</tspan><tspan font-size="7" dy="-4">-1</tspan><tspan dy="4"> and (f) surface zonal wind anomaly in Dec–Jan 2011 m·s</tspan><tspan font-size="7" dy="-4">-1</tspan><tspan dy="4">. </tspan><tspan font-style="italic">Qh</tspan> (between</text>
<text x="3" y="663" textLength="531" lengthAdjust="spacingAndGlyphs" style="fill:#231f20">b, d) = trend of sensible heat flux over the coastal upwelling zone. The SW Cape rotor is depicted in (e).</text>
</g>
</svg>
</body></html>
